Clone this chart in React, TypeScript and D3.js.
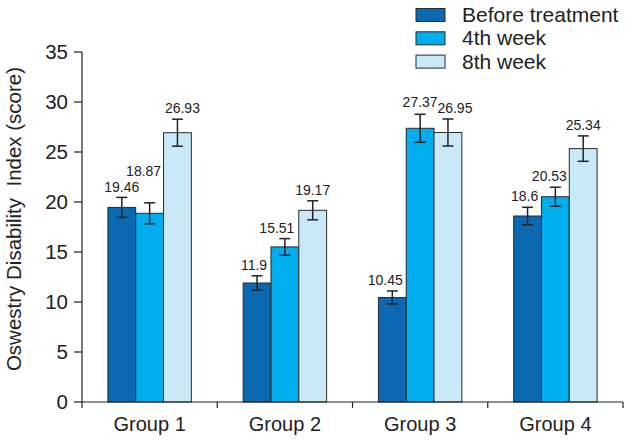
import React from "react";
import * as d3 from "d3";

const groups = ["Group 1", "Group 2", "Group 3", "Group 4"];
const seriesNames = ["Before treatment", "4th week", "8th week"];
const beforeValues = [19.46, 11.9, 10.45, 18.6];
const week4Values = [18.87, 15.51, 27.37, 20.53];
const week8Values = [26.93, 19.17, 26.95, 25.34];
const beforeErrors = [1.0, 0.72, 0.65, 0.87];
const week4Errors = [1.05, 0.83, 1.4, 0.95];
const week8Errors = [1.35, 0.95, 1.35, 1.27];
const yTicks = [0, 5, 10, 15, 20, 25, 30, 35];

// label nudges (layout, px) per [group][series]
const labelDx = [
  [0, -6, 5],
  [-3, -8, 0],
  [-7, 0, 7],
  [-3, -6, 0],
];
const labelDy = [
  [1, -21, 0],
  [0, 0, 0],
  [0, -1, 0],
  [0, 0, 0],
];

const colors = ["#0a69b1", "#00adee", "#c9e8f8"];
const FONT = "'Liberation Sans', Arial, sans-serif";

export default function App() {
  const W = 630;
  const H = 443;
  const left = 82;
  const right = 623;
  const top = 52;
  const bottom = 402;

  const values = [beforeValues, week4Values, week8Values];
  const errors = [beforeErrors, week4Errors, week8Errors];

  const x0 = d3.scaleBand<string>().domain(groups).range([left, right]).padding(0);
  const groupW = x0.bandwidth();
  const barsW = groupW * 0.617;
  const x1 = d3
    .scaleBand<string>()
    .domain(seriesNames)
    .range([(groupW - barsW) / 2, (groupW + barsW) / 2])
    .padding(0);
  const y = d3.scaleLinear().domain([0, 35]).range([bottom, top]);

  const fmt = (v: number) => String(v);

  return (
    <div style={{ position: "absolute", left: 0, top: 0 }}>
      <svg width={W} height={H} style={{ display: "block", background: "#fff" }} fontFamily={FONT}>
        {groups.map((g, gi) =>
          seriesNames.map((s, si) => {
            const v = values[si][gi];
            const bx = (x0(g) as number) + (x1(s) as number);
            const bw = x1.bandwidth();
            return (
              <rect
                key={`b-${gi}-${si}`}
                x={bx}
                y={y(v)}
                width={bw}
                height={y(0) - y(v)}
                fill={colors[si]}
                stroke="#2b2b2b"
                strokeWidth={1}
              />
            );
          })
        )}
        {groups.map((g, gi) =>
          seriesNames.map((s, si) => {
            const v = values[si][gi];
            const e = errors[si][gi];
            const cx = (x0(g) as number) + (x1(s) as number) + x1.bandwidth() / 2;
            const cap = 5.5;
            return (
              <g key={`e-${gi}-${si}`} stroke="#222" strokeWidth={1.5}>
                <line x1={cx} x2={cx} y1={y(v + e)} y2={y(v - e)} />
                <line x1={cx - cap} x2={cx + cap} y1={y(v + e)} y2={y(v + e)} />
                <line x1={cx - cap} x2={cx + cap} y1={y(v - e)} y2={y(v - e)} />
              </g>
            );
          })
        )}
        {groups.map((g, gi) =>
          seriesNames.map((s, si) => {
            const v = values[si][gi];
            const e = errors[si][gi];
            const cx = (x0(g) as number) + (x1(s) as number) + x1.bandwidth() / 2;
            return (
              <text
                key={`l-${gi}-${si}`}
                x={cx + labelDx[gi][si]}
                y={y(v + e) - 6 + labelDy[gi][si]}
                textAnchor="middle"
                fontSize={14}
                fill="#222"
              >
                {fmt(v)}
              </text>
            );
          })
        )}
        <line x1={left} x2={left} y1={top} y2={bottom} stroke="#222" strokeWidth={1.2} />
        {yTicks.map((t) => (
          <g key={`yt-${t}`}>
            <line x1={left - 8} x2={left} y1={y(t)} y2={y(t)} stroke="#222" strokeWidth={1.2} />
            <text x={left - 14} y={y(t)} dy="0.35em" textAnchor="end" fontSize={20.5} fill="#222">
              {t}
            </text>
          </g>
        ))}
        <line x1={left} x2={right} y1={bottom} y2={bottom} stroke="#222" strokeWidth={1.2} />
        {groups.map((g, gi) => (
          <line
            key={`xt-${gi}`}
            x1={x0(g) as number}
            x2={x0(g) as number}
            y1={bottom}
            y2={bottom + 6}
            stroke="#222"
            strokeWidth={1.2}
          />
        ))}
        <line x1={right} x2={right} y1={bottom} y2={bottom + 6} stroke="#222" strokeWidth={1.2} />
        {groups.map((g) => (
          <text
            key={`xl-${g}`}
            x={(x0(g) as number) + groupW / 2}
            y={431}
            textAnchor="middle"
            fontSize={20}
            fill="#222"
          >
            {g}
          </text>
        ))}
        <text
          transform={`translate(21, ${(top + bottom) / 2 - 8}) rotate(-90)`}
          textAnchor="middle"
          fontSize={20.5}
          fill="#222"
        >
          Oswestry Disability{"\u00a0\u00a0"}Index (score)
        </text>
        {seriesNames.map((s, si) => {
          const cy = 15 + si * 23.3;
          return (
            <g key={`lg-${s}`}>
              <rect x={416} y={cy - 6.5} width={29} height={13} fill={colors[si]} stroke="#2b2b2b" strokeWidth={1} />
              <text x={462} y={cy + 7} fontSize={21} fill="#222">
                {s}
              </text>
            </g>
          );
        })}
      </svg>
    </div>
  );
}
